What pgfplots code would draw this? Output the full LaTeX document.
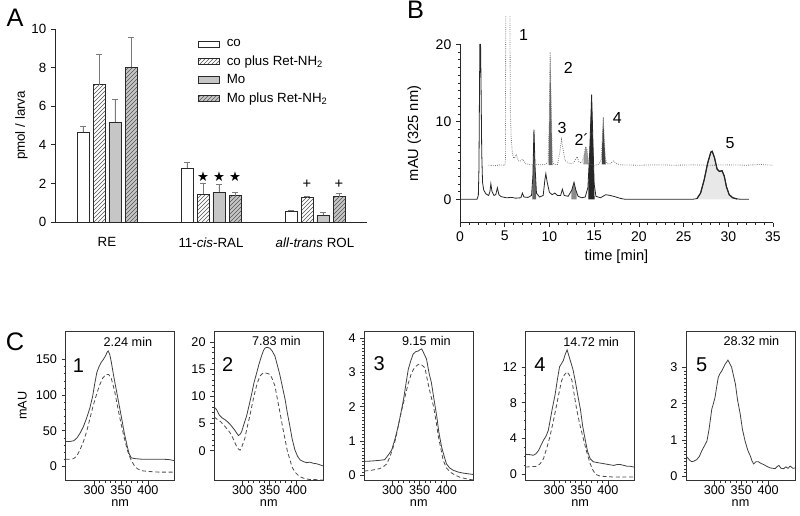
\documentclass[border=0pt]{standalone}
\usepackage{fontspec}
\setmainfont{Liberation Sans}
\newfontfamily\dejavu{DejaVu Sans}
\usepackage{pgfplots}
\pgfplotsset{compat=1.18}
\usetikzlibrary{patterns}
\definecolor{barline}{HTML}{2A2A2A}
\definecolor{mogray}{HTML}{C6C6C6}
\definecolor{errgray}{HTML}{7A7A7A}
\definecolor{hatch}{HTML}{555555}
\newcommand\fA{\fontsize{10}{12}\selectfont}
\newcommand\fC{\fontsize{9.5}{11}\selectfont}
\newcommand\fP{\fontsize{19}{19}\selectfont}
\pgfplotsset{/pgf/number format/assume math mode=true}
\pgfplotsset{
  cspec/.style={scale only axis, width=81.75pt, height=112.25pt,
    xmin=247, xmax=450, xtick={300,350,400}, minor x tick num=4,
    tick align=outside, xtick pos=bottom, ytick pos=left,
    major tick length=3pt, minor tick length=1.5pt,
    xlabel={nm}, tick label style={font=\fC}, label style={font=\fC},
    xticklabel style={inner sep=0.5pt},
    xlabel style={yshift=-3pt, inner sep=0.5pt},
    axis line style={black!80, line width=0.6pt},
    tick style={black!80, line width=0.5pt},
    anchor=south west},
  solidsp/.style={black!75, line width=0.6pt},
  dashsp/.style={black!70, line width=0.6pt, dash pattern=on 3pt off 2pt},
}
\begin{document}
\begin{tikzpicture}
\path[use as bounding box] (0,0) rectangle (600pt,387pt);

% ---------------- Panel A ----------------
\begin{axis}[
  at={(41.25pt,220.5pt)}, anchor=south west,
  scale only axis, width=234pt, height=144.75pt,
  xmin=-0.5, xmax=2.5, ymin=0, ymax=10,
  axis lines*=left, axis line style={-, black!85, line width=0.6pt},
  xtick={0,1,2},
  xticklabels={RE, 11-\textit{cis}-RAL, \textit{all-trans} ROL},
  x tick style={draw=none},
  xticklabel style={yshift=-5pt},
  ytick={0,2,4,6,8,10}, tick align=outside, major tick length=3pt,
  y tick style={black!85, line width=0.5pt},
  tick label style={font=\fA}, label style={font=\fA},
  ylabel={pmol / larva},
  ylabel style={yshift=-4pt},
  legend style={at={(0.458,0.96)}, anchor=north west, draw=none, fill=none,
    font=\fontsize{10}{12}\selectfont, row sep=1.2pt, inner sep=0pt,
    cells={anchor=west}},
  legend image code/.code={\draw[#1] (0pt,-2.4pt) rectangle (16pt,2.4pt); \path (19pt,0pt);},
  error bars/error bar style={errgray, line width=0.7pt},
  error bars/error mark options={rotate=90, errgray, mark size=2pt, line width=0.7pt},
]
\addplot[ybar, bar width=9pt, bar shift=0pt, draw=barline, fill=white, line width=0.5pt,
  error bars/.cd, y dir=plus, y explicit]
  coordinates {(-0.2308,4.65) +- (0,0.31) (0.7692,2.80) +- (0,0.29) (1.7692,0.57) +- (0,0.03)};
\addlegendentry{co}
\addplot[ybar, bar width=9pt, bar shift=0pt, draw=barline, fill=white, line width=0.5pt,
  postaction={pattern=north east lines, pattern color=hatch},
  error bars/.cd, y dir=plus, y explicit]
  coordinates {(-0.0769,7.12) +- (0,1.58) (0.9231,1.45) +- (0,0.57) (1.9231,1.28) +- (0,0.03)};
\addlegendentry{co plus Ret-NH\textsubscript{2}}
\addplot[ybar, bar width=9pt, bar shift=0pt, draw=barline, fill=mogray, line width=0.5pt,
  error bars/.cd, y dir=plus, y explicit]
  coordinates {(0.0769,5.18) +- (0,1.19) (1.0769,1.55) +- (0,0.37) (2.0769,0.36) +- (0,0.11)};
\addlegendentry{Mo}
\addplot[ybar, bar width=9pt, bar shift=0pt, draw=barline, fill=mogray, line width=0.5pt,
  postaction={pattern=north east lines, pattern color=hatch},
  error bars/.cd, y dir=plus, y explicit]
  coordinates {(0.2308,8.01) +- (0,1.56) (1.2308,1.36) +- (0,0.19) (2.2308,1.31) +- (0,0.19)};
\addlegendentry{Mo plus Ret-NH\textsubscript{2}}
\addplot[forget plot, only marks, mark=text,
  text mark={\dejavu\fontsize{10}{10}\selectfont ★}]
  coordinates {(0.9231,2.37) (1.0769,2.37) (1.2308,2.37)};
\addplot[forget plot, only marks, mark=text,
  text mark={\fontsize{11}{11}\selectfont +}]
  coordinates {(1.9231,1.93) (2.2308,1.93)};
\end{axis}
\node[font=\fP] at (11.25pt,373.9pt) {A};

% ---------------- Panel B ----------------
\begin{axis}[
  at={(345pt,220.05pt)}, anchor=south west,
  scale only axis, width=234.75pt, height=133.7pt,
  xmin=0, xmax=35, ymin=-3, ymax=20, clip=false,
  axis lines*=left, axis line style={-, black!85, line width=0.6pt},
  xtick={0,5,...,35}, minor x tick num=4,
  ytick={0,10,20}, minor y tick num=9,
  tick align=outside, major tick length=3pt, minor tick length=1.5pt,
  tick style={black!85, line width=0.5pt},
  tick label style={font=\fontsize{10.5}{12}\selectfont},
  label style={font=\fontsize{11}{13}\selectfont},
  xlabel={time [min]}, ylabel={mAU (325 nm)},
  ylabel style={yshift=4pt},
]
% filled peaks (solid trace)
\addplot[draw=none, fill=black!60] coordinates {(8.08,0)(8.08,0.8)(8.15,3)(8.27,9.0)(8.4,4)(8.52,1.0)(8.52,0)} -- cycle;
\addplot[draw=none, fill=black!45] coordinates {(12.45,0)(12.45,1.0)(12.5,1.2)(12.75,2.2)(12.95,1.2)(13.05,0.8)(13.05,0)} -- cycle;
\addplot[draw=none, fill=black!85] coordinates {(14.35,0)(14.35,1.8)(14.5,6)(14.72,13.5)(14.85,8)(15.0,2.0)(15.05,0)} -- cycle;
\addplot[draw=none, fill=black!9] coordinates {(26.5,0)(26.5,0.1)(26.9,0.8)(27.3,2.5)(27.7,4.7)(28.05,6.1)(28.2,6.2)(28.45,5.4)(28.75,3.9)(29.0,3.6)(29.3,3.7)(29.55,3.0)(29.8,1.6)(30.1,0.6)(30.5,0.2)(31.0,0.05)(31.0,0)} -- cycle;
% filled peaks (dotted trace)
\addplot[draw=none, fill=black!60] coordinates {(9.9,4.4)(9.98,10)(10.08,19)(10.2,12)(10.32,5)(10.35,4.4)} -- cycle;
\addplot[draw=none, fill=black!40] coordinates {(13.8,4.5)(13.85,5.6)(14.05,6.8)(14.2,6.4)(14.35,5)(14.4,4.5)} -- cycle;
\addplot[draw=none, fill=black!75] coordinates {(15.85,4.5)(15.92,8)(16.02,10.6)(16.12,8)(16.25,5.3)(16.3,4.5)} -- cycle;
% solid trace
\addplot[black!85, line width=0.6pt] coordinates {
(0,0)(1.9,0)(2.05,0.5)(2.12,4)(2.18,14)(2.22,20)(2.3,20)(2.36,14)(2.43,6)(2.52,2.2)(2.65,1.2)(2.9,0.7)(3.2,0.5)(3.35,1.0)(3.45,2.0)(3.58,1.0)(3.8,0.5)(4.0,0.6)(4.18,1.5)(4.35,0.6)(4.6,0.35)(5.2,0.2)(5.8,0.25)(6.2,0.15)(6.8,0.2)(6.98,0.8)(7.15,0.3)(7.6,0.25)(8.0,0.5)(8.15,3)(8.27,9.0)(8.4,4)(8.55,0.8)(8.9,0.3)(9.3,0.5)(9.5,2.6)(9.6,3.3)(9.75,2.2)(10.0,0.9)(10.3,0.6)(10.6,0.8)(10.9,0.5)(11.25,0.5)(11.45,1.3)(11.65,0.5)(12.1,0.4)(12.5,1.2)(12.75,2.2)(12.95,1.2)(13.2,0.4)(13.6,0.2)(14.0,0.3)(14.3,1.5)(14.5,6)(14.72,13.5)(14.85,8)(15.0,2.0)(15.2,0.4)(15.7,0.2)(16.0,0.4)(16.3,0.6)(16.8,0.5)(17.3,0.35)(18.0,0.1)(18.5,0)(26.0,0)(26.5,0.1)(26.9,0.8)(27.3,2.5)(27.7,4.7)(28.05,6.1)(28.2,6.2)(28.45,5.4)(28.75,3.9)(29.0,3.6)(29.3,3.7)(29.55,3.0)(29.8,1.6)(30.1,0.6)(30.5,0.2)(31.0,0.05)(31.5,0)(32.3,0)};
% dotted trace
\addplot[black!55, line width=0.6pt, densely dotted] coordinates {
(3.2,4.4)(4.0,4.35)(4.5,4.45)(5.0,4.4)(5.08,5)(5.11,23.6)};
\addplot[black!55, line width=0.6pt, densely dotted] coordinates {
(5.59,23.6)(5.62,12)(5.72,8)(5.85,6)(6.0,5.3)(6.15,5.4)(6.3,5.8)(6.5,5.0)(6.7,4.9)(7.0,5.2)(7.3,4.6)(7.8,4.5)(8.5,4.5)(9.0,4.45)(9.5,4.5)(9.85,4.8)(9.98,10)(10.08,19)(10.2,12)(10.32,5)(10.5,4.5)(10.9,4.5)(11.15,6)(11.35,7.7)(11.55,6.3)(11.75,5)(12.0,4.8)(12.3,4.6)(12.7,4.7)(13.1,5.5)(13.3,4.8)(13.6,4.7)(13.85,5.6)(14.05,6.8)(14.2,6.4)(14.35,5)(14.55,4.5)(15.0,4.4)(15.5,4.5)(15.8,5.2)(15.92,8)(16.02,10.6)(16.12,8)(16.25,5.3)(16.45,4.6)(16.8,4.6)(17.15,4.95)(17.5,4.6)(18.0,4.45)(20,4.4)(22,4.45)(24,4.4)(26,4.45)(28,4.4)(30,4.45)(32,4.4)(33.5,4.5)(35,4.4)};
\addplot[black!85, line width=0.9pt] coordinates {(26.5,0.1)(26.9,0.8)(27.3,2.5)(27.7,4.7)(28.05,6.1)(28.2,6.2)(28.45,5.4)(28.75,3.9)(29.0,3.6)(29.3,3.7)(29.55,3.0)(29.8,1.6)(30.1,0.6)(30.5,0.2)(31.0,0.05)};
\node[font=\fontsize{12}{12}\selectfont] at (axis cs:7.1,21.2) {1};
\node[font=\fontsize{12}{12}\selectfont] at (axis cs:12.1,16.9) {2};
\node[font=\fontsize{12}{12}\selectfont] at (axis cs:11.4,9.2) {3};
\node[font=\fontsize{12}{12}\selectfont] at (axis cs:13.6,7.7) {2´};
\node[font=\fontsize{12}{12}\selectfont] at (axis cs:17.6,10.5) {4};
\node[font=\fontsize{12}{12}\selectfont] at (axis cs:30.2,7.2) {5};
\end{axis}
\node[font=\fP] at (311.6pt,379.5pt) {B};

% ---------------- Panel C ----------------
\node[font=\fP] at (11.25pt,130.5pt) {C};
\begin{axis}[cspec, at={(49.3pt,26.5pt)}, ymin=-20, ymax=190, ytick={0,50,100,150}, minor y tick num=4, ylabel={mAU}]
\addplot[solidsp] coordinates {(247,35)(255,35)(262,36)(268,40)(274,47)(280,56)(286,68)(292,82)(297,98)(301,116)(305,132)(309,140)(313,146)(317,150)(321,155)(324,160)(326,162)(329,157)(332,146)(336,128)(341,108)(346,88)(351,68)(356,47)(361,30)(365,18)(369,12)(375,11)(390,10)(410,10)(430,10)(440,9.5)(450,8)};
\addplot[dashsp] coordinates {(247,10)(255,10)(262,11)(268,15)(274,24)(280,35)(286,49)(292,67)(298,85)(304,100)(310,114)(316,124)(322,129)(327,129)(332,123)(338,106)(344,82)(350,60)(356,40)(362,22)(368,10)(374,2)(380,-3)(388,-6)(400,-7)(420,-8)(450,-8)};
\node[font=\fC] at (rel axis cs:0.57,0.93) {2.24 min};
\node[font=\fontsize{15}{15}\selectfont] at (rel axis cs:0.116,0.767) {1};
\end{axis}
\begin{axis}[cspec, at={(160.7pt,26.5pt)}, ymin=-5.5, ymax=22, ytick={0,5,10,15,20}, minor y tick num=4]
\addplot[solidsp] coordinates {(247,8.0)(251,7.6)(256,6.6)(262,6.0)(267,5.7)(272,5.3)(276,4.9)(281,4.3)(285,3.8)(289,3.2)(292,2.8)(295,3.0)(298,3.5)(302,4.8)(307,6.3)(312,8.4)(317,10.6)(321,12.5)(326,14.3)(330,15.8)(335,17.4)(339,18.5)(342,18.9)(346,19.0)(351,18.8)(355,18.3)(360,17.4)(364,15.9)(369,14.0)(374,11.7)(379,9.4)(383,7.0)(388,4.4)(392,2.2)(397,0.2)(402,-1.0)(407,-1.7)(413,-2.0)(419,-2.2)(425,-2.1)(431,-2.3)(438,-2.4)(444,-2.6)(450,-2.8)};
\addplot[dashsp] coordinates {(247,6.2)(252,5.8)(258,5.4)(264,4.8)(270,4.1)(275,3.5)(279,2.9)(284,1.8)(289,0.7)(292,0.3)(295,0.1)(299,0.9)(304,2.3)(308,4.2)(313,6.3)(318,8.7)(323,10.9)(327,12.4)(332,13.7)(337,14.2)(341,14.3)(346,14.2)(351,14.0)(355,13.2)(360,11.9)(364,9.8)(369,7.2)(374,4.5)(379,2.0)(383,0.0)(388,-1.7)(392,-3.0)(397,-3.9)(402,-4.4)(407,-4.8)(415,-5.1)(425,-5.3)(435,-5.3)(450,-5.4)};
\node[font=\fC] at (rel axis cs:0.57,0.93) {7.83 min};
\node[font=\fontsize{15}{15}\selectfont] at (rel axis cs:0.124,0.773) {2};
\end{axis}
\begin{axis}[cspec, at={(273.2pt,26.5pt)}, ymin=-0.15, ymax=4.2, ytick={0,1,2,3,4}, minor y tick num=9]
\addplot[solidsp] coordinates {(247,0.41)(260,0.42)(275,0.44)(285,0.46)(292,0.6)(298,0.74)(304,1.05)(310,1.42)(315,1.8)(320,2.2)(325,2.7)(329,3.09)(334,3.35)(338,3.53)(343,3.6)(348,3.62)(351,3.66)(354,3.68)(358,3.55)(363,3.38)(368,2.95)(372,2.7)(377,2.2)(382,1.72)(386,1.25)(391,0.83)(396,0.55)(400,0.34)(406,0.22)(413,0.15)(422,0.1)(431,0.07)(440,0.05)(450,0.03)};
\addplot[dashsp] coordinates {(247,0.13)(260,0.15)(276,0.2)(283,0.26)(289,0.34)(295,0.55)(301,0.83)(306,1.1)(310,1.42)(316,1.85)(323,2.3)(329,2.68)(335,2.98)(341,3.15)(348,3.23)(351,3.24)(355,3.2)(360,3.13)(363,2.89)(369,2.45)(376,2.01)(381,1.55)(385,1.13)(390,0.75)(394,0.44)(400,0.22)(407,0.1)(415,0.02)(425,-0.05)(438,-0.1)(450,-0.13)};
\node[font=\fC] at (rel axis cs:0.57,0.93) {9.15 min};
\node[font=\fontsize{15}{15}\selectfont] at (rel axis cs:0.137,0.784) {3};
\end{axis}
\begin{axis}[cspec, at={(394.3pt,26.5pt)}, ymin=-0.7, ymax=16, ytick={0,4,8,12}, minor y tick num=3]
\addplot[solidsp] coordinates {(247,2.24)(255,2.2)(261,2.13)(266,2.3)(271,2.68)(275,3.2)(280,3.8)(285,4.3)(289,4.9)(293,6.2)(296,7.2)(299,8.1)(302,9.0)(306,10.6)(310,12.0)(314,12.4)(317,12.7)(320,13.3)(324,13.9)(327,13.3)(330,12.7)(335,11.7)(339,10.5)(344,8.8)(349,7.2)(353,5.4)(358,3.8)(362,2.6)(367,1.75)(373,1.4)(382,1.3)(392,1.2)(401,1.1)(411,1.0)(417,1.1)(423,1.1)(430,1.0)(436,0.9)(442,0.9)(450,0.8)};
\addplot[dashsp] coordinates {(247,0.82)(255,0.85)(262,0.88)(268,0.9)(274,1.2)(280,1.75)(286,2.9)(292,4.2)(299,6.1)(305,7.9)(310,9.4)(314,10.5)(319,11.1)(324,11.45)(328,11.1)(333,10.5)(337,9.0)(342,7.2)(348,5.5)(355,3.8)(361,2.4)(367,1.2)(372,0.5)(377,0.0)(386,-0.2)(400,-0.25)(411,-0.3)(430,-0.3)(450,-0.3)};
\node[font=\fC] at (rel axis cs:0.6,0.93) {14.72 min};
\node[font=\fontsize{15}{15}\selectfont] at (rel axis cs:0.131,0.773) {4};
\end{axis}
\begin{axis}[cspec, at={(514.5pt,26.5pt)}, ymin=-0.12, ymax=4, ytick={0,1,2,3}, minor y tick num=9]
\addplot[solidsp] coordinates {(247,0.55)(250,0.51)(254,0.44)(258,0.40)(262,0.42)(267,0.46)(272,0.55)(276,0.69)(281,0.83)(286,0.97)(290,1.3)(295,1.85)(298,2.0)(301,2.17)(304,2.45)(307,2.72)(310,2.82)(314,2.91)(317,3.0)(320,3.09)(323,3.15)(325,3.2)(328,3.12)(332,3.0)(335,2.8)(339,2.54)(343,2.1)(348,1.71)(352,1.3)(357,0.97)(362,0.72)(367,0.55)(370,0.42)(373,0.34)(377,0.40)(382,0.40)(386,0.36)(392,0.32)(398,0.27)(404,0.23)(409,0.22)(413,0.21)(417,0.27)(420,0.30)(424,0.22)(429,0.21)(433,0.26)(437,0.22)(441,0.28)(446,0.22)(450,0.23)};
\node[font=\fC] at (rel axis cs:0.6,0.93) {28.32 min};
\node[font=\fontsize{15}{15}\selectfont] at (rel axis cs:0.145,0.778) {5};
\end{axis}
\end{tikzpicture}
\end{document}
